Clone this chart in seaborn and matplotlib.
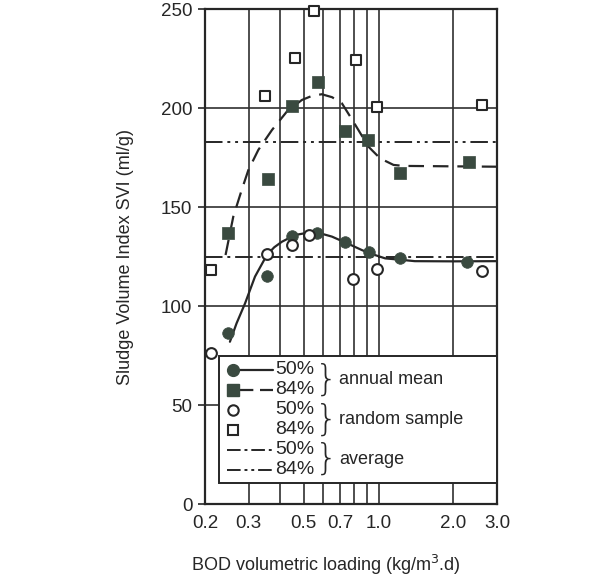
import matplotlib
matplotlib.use("Agg")
import matplotlib.pyplot as plt
import seaborn as sns
from matplotlib.patches import Rectangle
from matplotlib.ticker import NullLocator

# ---------------- data ----------------
x_ticks = [0.2, 0.3, 0.4, 0.5, 0.6, 0.7, 0.8, 0.9, 1.0, 2.0, 3.0]
x_tick_labels = ["0.2", "0.3", "", "0.5", "", "0.7", "", "", "1.0", "2.0", "3.0"]
y_ticks = [0, 50, 100, 150, 200, 250]

# annual mean 50% (filled circles)
am50_x = [0.248, 0.357, 0.45, 0.564, 0.734, 0.915, 1.22, 2.27]
am50_y = [86.4, 115.3, 135.5, 136.9, 132.6, 127.6, 124.2, 122.5]
# annual mean 84% (filled squares)
am84_x = [0.248, 0.36, 0.45, 0.573, 0.734, 0.911, 1.22, 2.31]
am84_y = [136.9, 164.1, 201.2, 213.4, 188.5, 184.0, 167.5, 173.0]
# random sample 50% (open circles)
rs50_x = [0.211, 0.355, 0.45, 0.525, 0.79, 0.99, 2.61]
rs50_y = [76.3, 126.4, 131.0, 136.0, 113.8, 118.8, 118.0]
# random sample 84% (open squares)
rs84_x = [0.211, 0.349, 0.461, 0.550, 0.81, 0.99, 2.61]
rs84_y = [118.3, 206.4, 225.2, 249.3, 224.4, 200.5, 201.7]

# fitted curves
c50_x = [0.252, 0.268, 0.290, 0.318, 0.355, 0.380, 0.408, 0.461, 0.510, 0.555,
         0.600, 0.649, 0.757, 0.857, 0.94, 1.064, 1.204, 1.4, 2.0, 3.0]
c50_y = [82.1, 91.4, 101.5, 115.0, 125.9, 129.8, 132.6, 136.0, 137.0, 137.2,
         136.4, 135.2, 131.5, 128.4, 126.4, 124.2, 123.6, 122.8, 122.7, 122.8]
c84_x = [0.242, 0.260, 0.281, 0.299, 0.328, 0.372, 0.427, 0.491, 0.540, 0.591,
         0.650, 0.712, 0.769, 0.83, 0.911, 1.015, 1.149, 1.261, 3.0]
c84_y = [125.9, 145.3, 158.7, 168.8, 179.0, 189.0, 198.3, 204.2, 206.3, 207.1,
         205.6, 202.5, 195.8, 189.0, 180.6, 174.7, 171.4, 170.9, 170.5]

# averages
avg50 = 125.0
avg84 = 182.8

legend_pct = ["50%", "84%"]
legend_groups = ["annual mean", "random sample", "average"]

# ---------------- style ----------------
sns.set_theme(style="white")
plt.rcParams["font.family"] = ["Liberation Sans", "DejaVu Sans"]

INK = "#262626"
FILL = "#3a4a40"
GRID = "#303030"

W, H = 604, 577
fig = plt.figure(figsize=(W / 100, H / 100), dpi=100, facecolor="white")
L, R, T, B = 205, 497, 9.3, 504.3
ax = fig.add_axes([L / W, 1 - B / H, (R - L) / W, (B - T) / H])
ax.set_facecolor("white")

ax.set_xscale("log")
ax.set_xlim(0.2, 3.0)
ax.set_ylim(0, 250)
ax.set_xticks(x_ticks)
ax.set_xticklabels(x_tick_labels)
ax.xaxis.set_minor_locator(NullLocator())
ax.set_yticks(y_ticks)
ax.set_yticklabels([str(v) for v in y_ticks])
ax.tick_params(axis="x", length=0, pad=8, labelsize=13.5, colors=INK)
ax.tick_params(axis="y", length=5, width=1.2, pad=4, labelsize=13.5, colors=INK,
               direction="out", left=True)
ax.grid(True, color=GRID, linewidth=1.2)
ax.set_axisbelow(True)
for s in ax.spines.values():
    s.set_color(INK)
    s.set_linewidth(1.6)

# averages
ax.axhline(avg50, color=INK, linewidth=1.4, linestyle=(0, (9, 2.5, 1.5, 2.5)), zorder=2)
ax.axhline(avg84, color=INK, linewidth=1.4,
           linestyle=(0, (9, 2.5, 1.5, 2.5, 1.5, 2.5)), zorder=2)

# curves
sns.lineplot(x=c50_x, y=c50_y, ax=ax, color=INK, linewidth=1.6, sort=False,
             estimator=None, zorder=3)
sns.lineplot(x=c84_x, y=c84_y, ax=ax, color=INK, linewidth=1.6, sort=False,
             estimator=None, linestyle=(0, (7, 4)), zorder=3)

# points
sns.scatterplot(x=am50_x, y=am50_y, ax=ax, marker="o", s=70, color=FILL,
                edgecolor=FILL, linewidth=0.5, zorder=4, clip_on=False)
sns.scatterplot(x=am84_x, y=am84_y, ax=ax, marker="s", s=70, color=FILL,
                edgecolor=FILL, linewidth=0.5, zorder=4, clip_on=False)
sns.scatterplot(x=rs50_x, y=rs50_y, ax=ax, marker="o", s=60, color="white",
                edgecolor=INK, linewidth=1.5, zorder=4, clip_on=False)
sns.scatterplot(x=rs84_x, y=rs84_y, ax=ax, marker="s", s=60, color="white",
                edgecolor=INK, linewidth=1.5, zorder=4, clip_on=False)

# labels
ax.set_ylabel("Sludge Volume Index SVI (ml/g)", fontsize=13, color=INK)
ax.yaxis.set_label_coords((134 - L) / (R - L), 0.5)
ax.set_xlabel("BOD volumetric loading (kg/m$^3$.d)", fontsize=13, color=INK)
ax.xaxis.set_label_coords((326 - L) / (R - L), (B - 553) / (B - T))

# ---------------- hand-drawn legend box ----------------
def P(x, y):
    return x / W, 1 - y / H

tf = fig.transFigure
x0, y0 = P(219, 483)
x1, y1 = P(R, 356)
fig.patches.append(Rectangle((x0, y0), x1 - x0, y1 - y0, transform=tf,
                             facecolor="white", edgecolor=INK, linewidth=1.4,
                             zorder=10))

rows = [370, 390, 410, 430, 450, 470]
kw = dict(transform=tf, clip_on=False, zorder=11)

# row 1: filled circle + solid
fig.lines.append(plt.Line2D([P(238, 0)[0], P(273, 0)[0]], [P(0, rows[0])[1]] * 2,
                            color=INK, linewidth=1.6, **kw))
fig.lines.append(plt.Line2D([P(233, 0)[0]], [P(0, rows[0])[1]], marker="o",
                            markersize=8.5, color=FILL, linestyle="none", **kw))
# row 2: filled square + dashed
fig.lines.append(plt.Line2D([P(240, 0)[0], P(273, 0)[0]], [P(0, rows[1])[1]] * 2,
                            color=INK, linewidth=1.6, linestyle=(0, (6, 3)), **kw))
fig.lines.append(plt.Line2D([P(233, 0)[0]], [P(0, rows[1])[1]], marker="s",
                            markersize=8, color=FILL, linestyle="none", **kw))
# row 3/4: open circle / open square
fig.lines.append(plt.Line2D([P(233, 0)[0]], [P(0, rows[2])[1]], marker="o",
                            markersize=7.5, markerfacecolor="white",
                            markeredgecolor=INK, markeredgewidth=1.5,
                            linestyle="none", **kw))
fig.lines.append(plt.Line2D([P(233, 0)[0]], [P(0, rows[3])[1]], marker="s",
                            markersize=7, markerfacecolor="white",
                            markeredgecolor=INK, markeredgewidth=1.5,
                            linestyle="none", **kw))
# row 5/6: averages
fig.lines.append(plt.Line2D([P(227, 0)[0], P(273, 0)[0]], [P(0, rows[4])[1]] * 2,
                            color=INK, linewidth=1.4,
                            linestyle=(0, (7, 2, 1.5, 2)), **kw))
fig.lines.append(plt.Line2D([P(227, 0)[0], P(273, 0)[0]], [P(0, rows[5])[1]] * 2,
                            color=INK, linewidth=1.4,
                            linestyle=(0, (7, 2, 1.5, 2, 1.5, 2)), **kw))

for i, ry in enumerate(rows):
    fx, fy = P(275, ry)
    fig.text(fx, fy, legend_pct[i % 2], fontsize=14, color=INK, ha="left",
             va="center", zorder=12)

for g, (label, cy) in enumerate(zip(legend_groups, [380, 420, 459])):
    bx, by = P(326, cy)
    fig.text(bx, by, "}", fontsize=26, color=INK, ha="center", va="center",
             zorder=12, family="DejaVu Sans", fontweight="light")
    lx, ly = P(339, cy)
    fig.text(lx, ly, label, fontsize=13, color=INK, ha="left", va="center",
             zorder=12)

fig.savefig("out.png", dpi=100, facecolor="white")
